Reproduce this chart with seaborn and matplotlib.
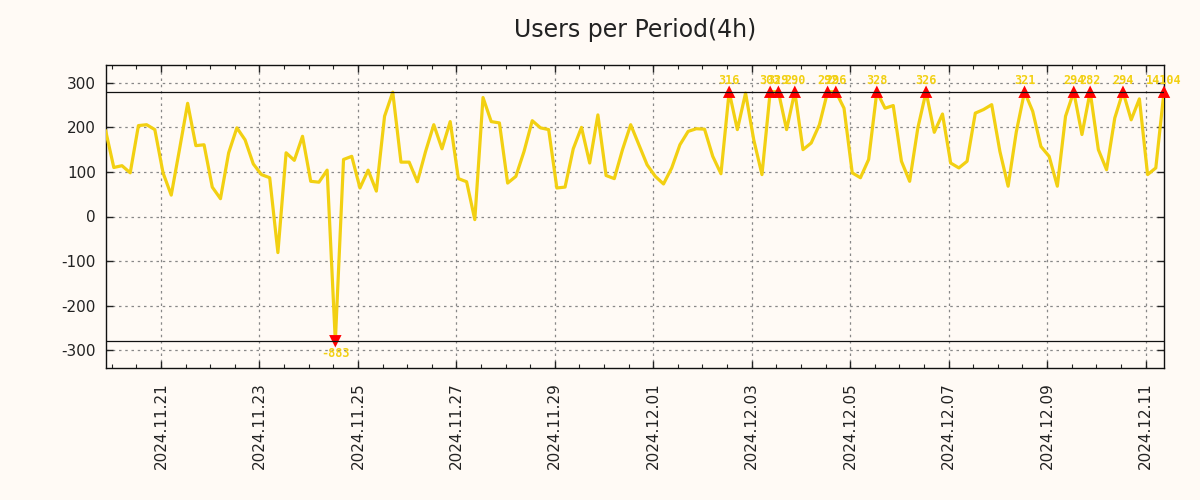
import numpy as np
import pandas as pd
import matplotlib
matplotlib.use("Agg")
import matplotlib.pyplot as plt
import matplotlib.dates as mdates
import seaborn as sns

# ---- data ----
start_time = "2024-11-19 21:00"
period = "4h"
users = [
    193, 110, 114, 98, 204, 206, 195, 98, 48, 150,
    254, 159, 161, 66, 40, 143, 199, 172, 118, 94,
    87, -81, 143, 126, 180, 79, 77, 104, -883, 128,
    135, 64, 104, 57, 225, 279, 122, 122, 78, 146,
    206, 152, 213, 85, 78, -7, 267, 213, 210, 75,
    90, 146, 215, 199, 195, 64, 66, 152, 200, 120,
    228, 92, 85, 150, 206, 161, 116, 90, 73, 109,
    161, 191, 197, 196, 135, 96, 316, 195, 277, 172,
    94, 303, 329, 195, 290, 150, 165, 206, 292, 296,
    243, 98, 87, 128, 328, 243, 249, 124, 79, 199,
    326, 189, 230, 120, 109, 124, 232, 240, 251, 146,
    68, 190, 321, 236, 157, 135, 68, 225, 294, 184,
    282, 150, 105, 221, 294, 217, 264, 94, 109, 14104,
]
clip_limit = 280
title = "Users per Period(4h)"

# ---- build frame ----
times = pd.date_range(start_time, periods=len(users), freq=period)
df = pd.DataFrame({"time": times, "users": users})
df["shown"] = df["users"].clip(-clip_limit, clip_limit)
over = df[df["users"] > clip_limit]
under = df[df["users"] < -clip_limit]

bg = "#fffaf5"
line_color = "#f2d012"

sns.set_theme(style="ticks")
plt.rcParams["font.family"] = ["DejaVu Sans"]
plt.rcParams["axes.unicode_minus"] = False

fig = plt.figure(figsize=(12, 5), dpi=100, facecolor=bg)
ax = fig.add_axes([0.088, 0.264, 0.882, 0.606])
ax.set_facecolor(bg)

sns.lineplot(data=df, x="time", y="shown", color=line_color, linewidth=2.3,
             ax=ax, zorder=3)

sns.scatterplot(data=over, x="time", y="shown", marker="^", color="#ff0000",
                s=80, edgecolor="none", ax=ax, zorder=4, clip_on=False)
sns.scatterplot(data=under, x="time", y="shown", marker="v", color="#ff0000",
                s=80, edgecolor="none", ax=ax, zorder=4, clip_on=False)

for lim in (clip_limit, -clip_limit):
    ax.axhline(lim, color="#111111", linewidth=0.9, zorder=5)

label_font = dict(fontsize=8.5, color=line_color, family="DejaVu Sans Mono",
                  fontweight="bold")
for _, r in over.iterrows():
    ax.annotate(f"{r['users']}", (r["time"], r["shown"]), xytext=(0, 3.5),
                textcoords="offset points", ha="center", va="bottom",
                annotation_clip=False, zorder=6, **label_font)
for _, r in under.iterrows():
    ax.annotate(f"{r['users']}", (r["time"], r["shown"]), xytext=(0, -4),
                textcoords="offset points", ha="center", va="top",
                annotation_clip=False, zorder=6, **label_font)

ax.set_xlim(times[0], times[-1])
ax.set_ylim(-340, 340)
ax.set_yticks([-300, -200, -100, 0, 100, 200, 300])

ax.xaxis.set_major_locator(mdates.DayLocator(bymonthday=range(1, 32, 2)))
ax.xaxis.set_minor_locator(mdates.HourLocator(byhour=[0, 12]))
ax.xaxis.set_major_formatter(mdates.DateFormatter("%Y.%m.%d"))

ax.grid(True, which="major", linestyle=(0, (2, 3)), color="#888888", linewidth=0.9)
ax.tick_params(axis="both", which="both", direction="in", top=True, right=True,
               colors="#222222", labelsize=11)
ax.tick_params(axis="both", which="major", length=5, width=1)
ax.tick_params(axis="both", which="minor", length=3, width=0.8)
ax.tick_params(axis="x", which="major", pad=10)
ax.tick_params(axis="y", which="major", pad=7)
for lab in ax.get_xticklabels():
    lab.set_rotation(90)
for sp in ax.spines.values():
    sp.set_color("#111111")
    sp.set_linewidth(1)

ax.set_xlabel("")
ax.set_ylabel("")
ax.set_title(title, fontsize=17, color="#222222", pad=20)

fig.savefig("out.png", dpi=100, facecolor=bg)
